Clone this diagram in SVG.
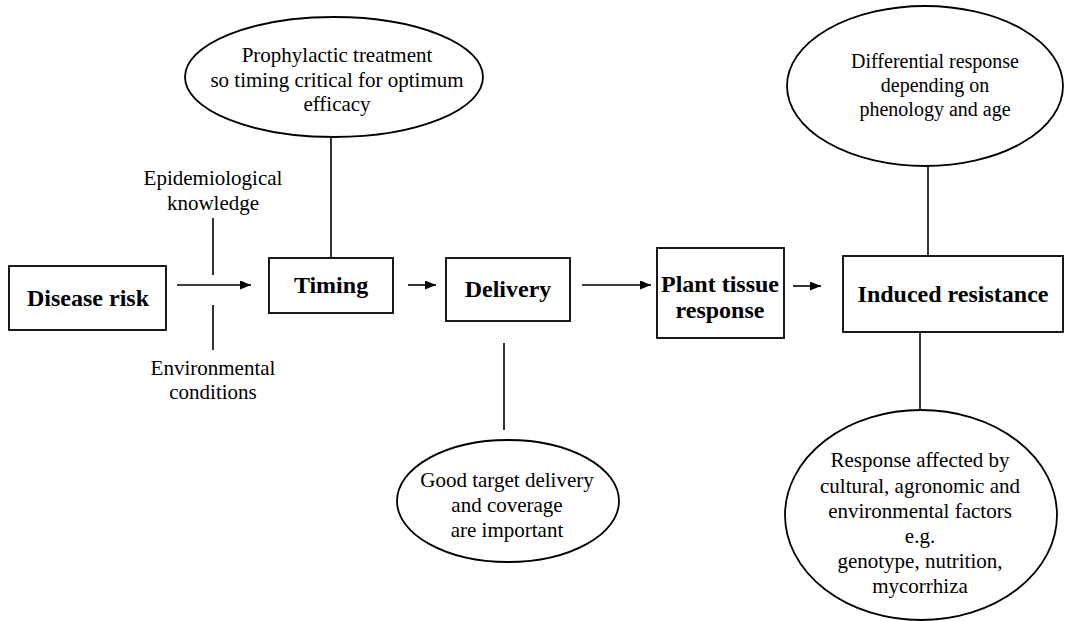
<svg xmlns="http://www.w3.org/2000/svg" width="1065" height="621" viewBox="0 0 1065 621">
<style>
.box{fill:#fff;stroke:#000;stroke-width:1.8}
.ell{fill:#fff;stroke:#000;stroke-width:1.8}
.ln{stroke:#000;stroke-width:1.6;fill:none}
text{font-family:"Times New Roman","Liberation Serif",Times,serif;text-anchor:middle;fill:#000}
.b{font-weight:bold;font-size:24px}
.t{font-size:21px}
.t2{font-size:20px}
</style>
<defs>
<marker id="ah" markerUnits="userSpaceOnUse" markerWidth="11" markerHeight="9" refX="11" refY="4.5" orient="auto">
<path d="M0,0 L11,4.5 L0,9 z" fill="#000"/>
</marker>
</defs>
<rect width="1065" height="621" fill="#fff"/>
<g id="connectors">
<line class="ln" x1="177" y1="285" x2="251" y2="285" marker-end="url(#ah)"/>
<line class="ln" x1="213" y1="218" x2="213" y2="275"/>
<line class="ln" x1="213" y1="305" x2="213" y2="350"/>
<line class="ln" x1="408" y1="285" x2="436" y2="285" marker-end="url(#ah)"/>
<line class="ln" x1="582" y1="285" x2="651" y2="285" marker-end="url(#ah)"/>
<line class="ln" x1="793" y1="286" x2="821" y2="286" marker-end="url(#ah)"/>
<line class="ln" x1="331" y1="137" x2="331" y2="258"/>
<line class="ln" x1="504" y1="343" x2="504" y2="430"/>
<line class="ln" x1="928" y1="166" x2="928" y2="256"/>
<line class="ln" x1="920" y1="332" x2="920" y2="410"/>
</g>
<g id="disease-risk">
<rect class="box" x="9" y="266" width="157" height="64"/>
<text class="b" x="88" y="306">Disease risk</text>
</g>
<g id="epi-label">
<text class="t" x="213" y="185">Epidemiological</text>
<text class="t" x="213" y="210">knowledge</text>
</g>
<g id="env-label">
<text class="t" x="213" y="375">Environmental</text>
<text class="t" x="213" y="399">conditions</text>
</g>
<g id="timing">
<rect class="box" x="269" y="258" width="124" height="55"/>
<text class="b" x="331" y="293">Timing</text>
</g>
<g id="prophylactic">
<ellipse class="ell" cx="334" cy="77" rx="149" ry="60"/>
<text class="t" x="337" y="62">Prophylactic treatment</text>
<text class="t" x="337" y="87">so timing critical for optimum</text>
<text class="t" x="337" y="111">efficacy</text>
</g>
<g id="delivery">
<rect class="box" x="446" y="258" width="124" height="63"/>
<text class="b" x="508" y="297">Delivery</text>
</g>
<g id="good-target">
<ellipse class="ell" cx="508" cy="501" rx="111" ry="61"/>
<text class="t" x="507" y="487">Good target delivery</text>
<text class="t" x="507" y="512">and coverage</text>
<text class="t" x="507" y="537">are important</text>
</g>
<g id="plant-tissue">
<rect class="box" x="657" y="248" width="127" height="90"/>
<text class="b" x="720" y="292">Plant tissue</text>
<text class="b" x="720" y="318">response</text>
</g>
<g id="induced-resistance">
<rect class="box" x="843" y="256" width="220" height="76"/>
<text class="b" x="953" y="302">Induced resistance</text>
</g>
<g id="differential">
<ellipse class="ell" cx="925" cy="86" rx="138" ry="80"/>
<text class="t2" x="935" y="68">Differential response</text>
<text class="t2" x="935" y="92">depending on</text>
<text class="t2" x="935" y="116">phenology and age</text>
</g>
<g id="response-affected">
<ellipse class="ell" cx="921" cy="515" rx="136" ry="105"/>
<text class="t" x="920" y="467">Response affected by</text>
<text class="t" x="920" y="493">cultural, agronomic and</text>
<text class="t" x="920" y="518">environmental factors</text>
<text class="t" x="920" y="543">e.g.</text>
<text class="t" x="920" y="568">genotype, nutrition,</text>
<text class="t" x="920" y="593">mycorrhiza</text>
</g>
</svg>
